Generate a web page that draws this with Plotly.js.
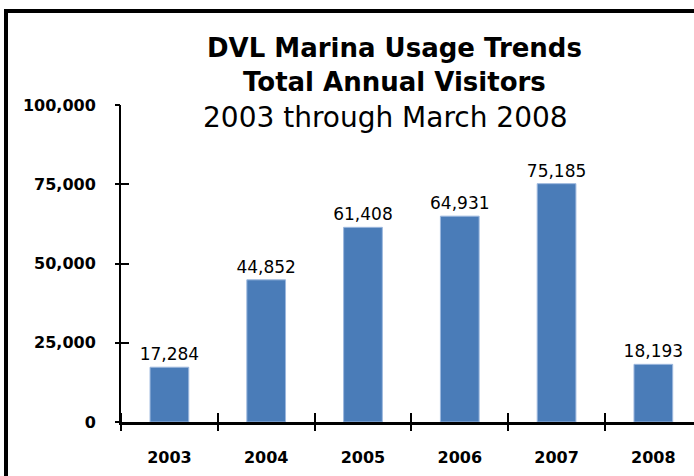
<!DOCTYPE html>
<html>
<head>
<meta charset="utf-8">
<script src="https://cdn.plot.ly/plotly-3.0.1.min.js"></script>
<style>
  html, body { margin: 0; padding: 0; background: #fff; overflow: hidden; width: 694px; height: 476px; }
  #chart { position: absolute; left: 0; top: 0; width: 694px; height: 476px; }
  #frame { position: absolute; left: 4px; top: 9px; width: 900px; height: 700px; border: 4px solid #000; pointer-events: none; }
</style>
</head>
<body>
<div id="chart"></div>
<div id="frame"></div>
<script>
// ---- data ----
const years = [2003, 2004, 2005, 2006, 2007, 2008];
const yearLabels = ["2003", "2004", "2005", "2006", "2007", "2008"];
const visitors = [17284, 44852, 61408, 64931, 75185, 18193];
const yTicks = [0, 25000, 50000, 75000, 100000];
const categoryBounds = [2002.5, 2003.5, 2004.5, 2005.5, 2006.5, 2007.5];
const titleLines = ["DVL Marina Usage Trends", "Total Annual Visitors", "2003 through March 2008"];

const xRange = [2002.5, 2008.42];
const yRange = [0, 100000];

const bars = {
  type: "bar",
  x: years,
  y: visitors,
  width: 0.4,
  marker: { color: "#4A7CB8", line: { color: "#9DB8DE", width: 1 } },
  text: visitors.map(v => v.toLocaleString("en-US")),
  textposition: "outside",
  constraintext: "none",
  cliponaxis: false,
  textfont: { family: "DejaVu Sans", size: 17, color: "#000" },
  hoverinfo: "x+y",
  showlegend: false
};

const layout = {
  width: 694,
  height: 476,
  margin: { l: 121, r: 0, t: 105, b: 54, pad: 0 },
  paper_bgcolor: "#fff",
  plot_bgcolor: "rgba(0,0,0,0)",
  showlegend: false,
  xaxis: {
    type: "linear",
    range: xRange,
    tickmode: "array",
    tickvals: years,
    ticktext: yearLabels,
    ticks: "",
    showline: true,
    linewidth: 3,
    linecolor: "#000",
    showgrid: false,
    zeroline: false,
    ticklabelstandoff: 19,
    tickfont: { family: "DejaVu Sans", size: 16, color: "#000", weight: "bold" },
    minor: { tickmode: "array", tickvals: categoryBounds, ticks: "inside", ticklen: 9, tickwidth: 2, tickcolor: "#000", showgrid: false },
    fixedrange: true
  },
  xaxis2: {
    type: "linear", overlaying: "x", anchor: "y", range: xRange,
    tickmode: "array", tickvals: categoryBounds, ticks: "outside", ticklen: 8, tickwidth: 2, tickcolor: "#000",
    showticklabels: false, showline: false, showgrid: false, zeroline: false, fixedrange: true
  },
  yaxis: {
    range: yRange,
    tickmode: "array",
    tickvals: yTicks,
    tickformat: ",",
    ticks: "inside",
    ticklen: 8,
    tickwidth: 2,
    tickcolor: "#000",
    showline: true,
    linewidth: 2,
    linecolor: "#000",
    showgrid: false,
    zeroline: false,
    ticklabelstandoff: 20,
    tickfont: { family: "DejaVu Sans", size: 16, color: "#000", weight: "bold" },
    fixedrange: true
  },
  yaxis2: {
    overlaying: "y", anchor: "x", side: "left", range: yRange,
    tickmode: "array", tickvals: yTicks, ticks: "outside", ticklen: 5, tickwidth: 2, tickcolor: "#000",
    showticklabels: false, showline: false, showgrid: false, zeroline: false, fixedrange: true
  },
  annotations: [
    { text: titleLines[0], xref: "paper", yref: "paper", x: 0.478, y: 1.18, xanchor: "center", yanchor: "middle", showarrow: false,
      font: { family: "DejaVu Sans", size: 26, color: "#000", weight: "bold" } },
    { text: titleLines[1], xref: "paper", yref: "paper", x: 0.478, y: 1.074, xanchor: "center", yanchor: "middle", showarrow: false,
      font: { family: "DejaVu Sans", size: 26, color: "#000", weight: "bold" } },
    { text: titleLines[2], xref: "paper", yref: "paper", x: 0.4616, y: 0.962, xanchor: "center", yanchor: "middle", showarrow: false,
      font: { family: "DejaVu Sans", size: 28, color: "#000" } }
  ]
};

const dummyX2 = { type: "scatter", x: [], y: [], xaxis: "x2", yaxis: "y", hoverinfo: "skip", showlegend: false };
const dummyY2 = { type: "scatter", x: [], y: [], xaxis: "x", yaxis: "y2", hoverinfo: "skip", showlegend: false };

Plotly.newPlot("chart", [bars, dummyX2, dummyY2], layout, { displayModeBar: false, staticPlot: true });
</script>
</body>
</html>
